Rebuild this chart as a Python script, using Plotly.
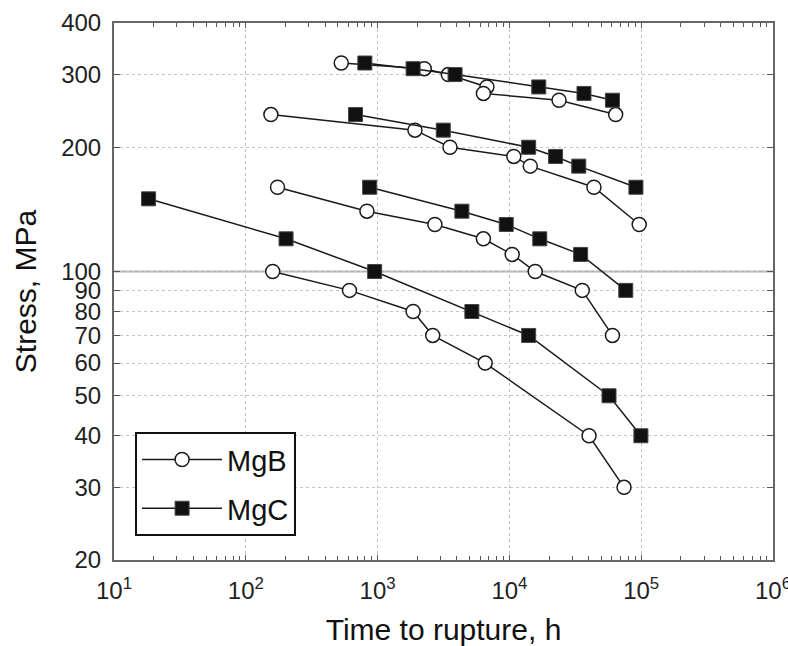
import plotly.graph_objects as go

# ---------------- data (time to rupture in h, stress in MPa) ----------------
mgb_g1_time = [530, 2260, 3440, 6750, 6350, 23800, 64000]
mgb_g1_stress = [320, 310, 300, 280, 270, 260, 240]
mgc_g1_time = [800, 1860, 3870, 16700, 36800, 60500]
mgc_g1_stress = [320, 310, 300, 280, 270, 260]

mgb_g2_time = [155, 1920, 3540, 10800, 14400, 43800, 96600]
mgb_g2_stress = [240, 220, 200, 190, 180, 160, 130]
mgc_g2_time = [680, 3150, 14000, 22400, 33600, 91200]
mgc_g2_stress = [240, 220, 200, 190, 180, 160]

mgb_g3_time = [174, 830, 2720, 6350, 10500, 15700, 35700, 60500]
mgb_g3_stress = [160, 140, 130, 120, 110, 100, 90, 70]
mgc_g3_time = [870, 4360, 9460, 17000, 34700, 76400]
mgc_g3_stress = [160, 140, 130, 120, 110, 90]

mgb_g4_time = [160, 612, 1860, 2620, 6550, 40200, 74100]
mgb_g4_stress = [100, 90, 80, 70, 60, 40, 30]
mgc_g4_time = [18.3, 202, 950, 5190, 14000, 57000, 99500]
mgc_g4_stress = [150, 120, 100, 80, 70, 50, 40]

x_tickvals = [10, 100, 1000, 10000, 100000, 1000000]
x_ticktext = ["10<sup>1</sup>", "10<sup>2</sup>", "10<sup>3</sup>",
              "10<sup>4</sup>", "10<sup>5</sup>", "10<sup>6</sup>"]
y_tickvals = [20, 30, 40, 50, 60, 70, 80, 90, 100, 200, 300, 400]
y_ticktext = ["20", "30", "40", "50", "60", "70", "80", "90", "100", "200", "300", "400"]

mgb_groups = [(mgb_g1_time, mgb_g1_stress), (mgb_g2_time, mgb_g2_stress),
              (mgb_g3_time, mgb_g3_stress), (mgb_g4_time, mgb_g4_stress)]
mgc_groups = [(mgc_g1_time, mgc_g1_stress), (mgc_g2_time, mgc_g2_stress),
              (mgc_g3_time, mgc_g3_stress), (mgc_g4_time, mgc_g4_stress)]

FONT = "Arial, Liberation Sans, sans-serif"
fig = go.Figure()

for i, (t, s) in enumerate(mgb_groups):
    fig.add_trace(go.Scatter(
        x=t, y=s, mode="lines+markers", name="MgB",
        legendgroup="MgB", showlegend=(i == 0),
        line=dict(color="#1a1a1a", width=1.5),
        marker=dict(symbol="circle", size=14, color="white",
                    line=dict(color="#1a1a1a", width=1.5)),
    ))

for i, (t, s) in enumerate(mgc_groups):
    fig.add_trace(go.Scatter(
        x=t, y=s, mode="lines+markers", name="MgC",
        legendgroup="MgC", showlegend=(i == 0),
        line=dict(color="#1a1a1a", width=1.5),
        marker=dict(symbol="square", size=14, color="#111111",
                    line=dict(color="#444444", width=1)),
    ))

# solid grid line at 100 MPa
fig.add_shape(type="line", xref="paper", yref="y", x0=0, x1=1, y0=100, y1=100,
              line=dict(color="#b0b0b0", width=2), layer="below")

fig.update_layout(
    width=788, height=646,
    margin=dict(l=114, r=15, t=23, b=86, autoexpand=False),
    paper_bgcolor="white", plot_bgcolor="white",
    font=dict(family=FONT, color="#1a1a1a", size=24),
    showlegend=True,
    legend=dict(x=0.032, y=0.238, xanchor="left", yanchor="top",
                bgcolor="white", bordercolor="#111111", borderwidth=2,
                font=dict(size=29, family=FONT, color="#111111"),
                tracegroupgap=8, itemwidth=80,
                traceorder="grouped"),
)

fig.update_xaxes(
    type="log", range=[0.9999, 6.0001], automargin=False,
    tickvals=x_tickvals, ticktext=x_ticktext,
    ticks="inside", ticklen=5, tickcolor="#555",
    tickfont=dict(size=24, family=FONT, color="#222"),
    ticklabelstandoff=8, ticklabeloverflow="allow",
    showline=True, linecolor="#666", linewidth=2, mirror="ticks",
    showgrid=True, gridcolor="#c4c4c4", griddash="dot", gridwidth=1,
    minor=dict(ticks="inside", ticklen=4, tickcolor="#555", dtick="D1", showgrid=False),
    zeroline=False,
    title=dict(text="Time to rupture, h", font=dict(size=30, family=FONT, color="#111"),
               standoff=20),
)
fig.update_yaxes(
    type="log", range=[1.30103, 2.60206], automargin=False,
    tickvals=y_tickvals, ticktext=y_ticktext,
    ticks="inside", ticklen=6, tickcolor="#555",
    tickfont=dict(size=24, family=FONT, color="#222"),
    ticklabelstandoff=6,
    showline=True, linecolor="#666", linewidth=2, mirror="ticks",
    showgrid=True, gridcolor="#c4c4c4", griddash="dot", gridwidth=1,
    zeroline=False,
    title=dict(text="Stress, MPa", font=dict(size=30, family=FONT, color="#111"),
               standoff=16),
)

fig.write_html("out.html")
